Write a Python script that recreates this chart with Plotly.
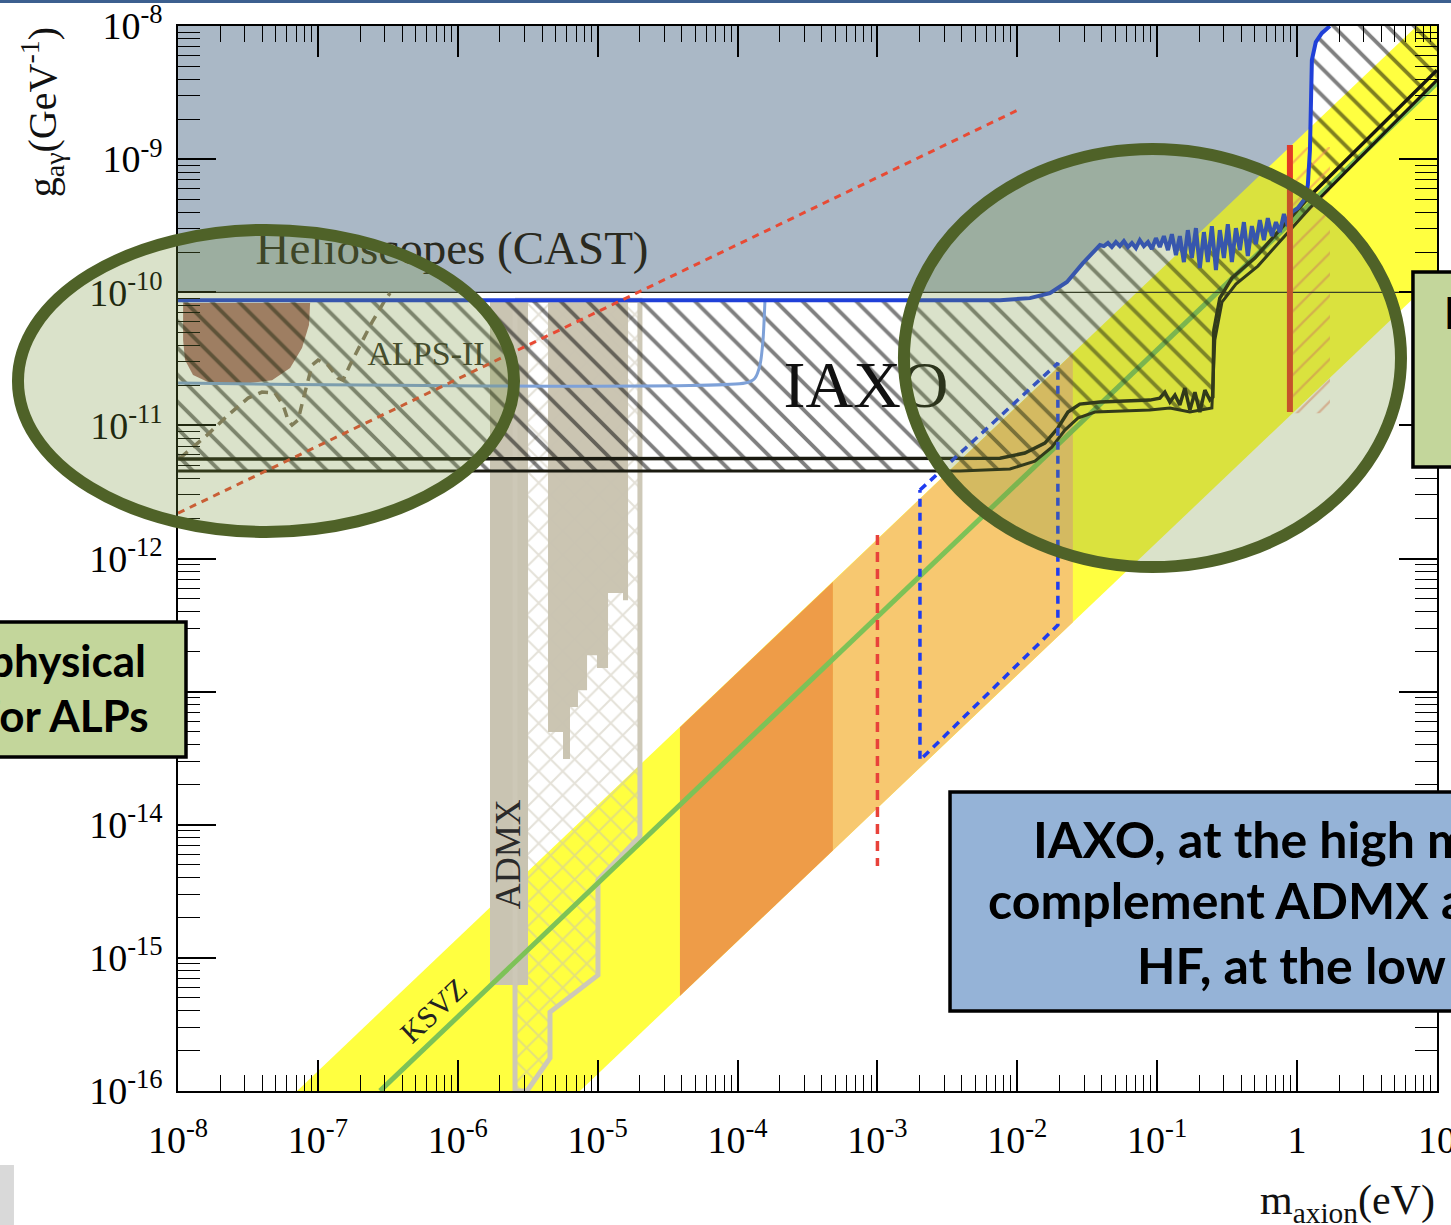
import plotly.graph_objects as go

# ------------------------------------------------------------------
# Values (log10 of m_axion [eV] and g [GeV^-1])
# ------------------------------------------------------------------
x_tick_exps = [-8, -7, -6, -5, -4, -3, -2, -1, 0, 1]
x_tick_labels = ["10<sup>-8</sup>", "10<sup>-7</sup>", "10<sup>-6</sup>", "10<sup>-5</sup>",
                 "10<sup>-4</sup>", "10<sup>-3</sup>", "10<sup>-2</sup>", "10<sup>-1</sup>", "1", "10"]
y_tick_exps = [-16, -15, -14, -13, -12, -11, -10, -9, -8]
y_tick_labels = ["10<sup>-16</sup>", "10<sup>-15</sup>", "10<sup>-14</sup>", "10<sup>-13</sup>",
                 "10<sup>-12</sup>", "10<sup>-11</sup>", "10<sup>-10</sup>", "10<sup>-9</sup>",
                 "10<sup>-8</sup>"]

# CAST exclusion (blue line), left to right
cast_m = [-8, -2.124, -1.910, -1.767, -1.645, -1.531, -1.409,
          -1.381, -1.352, -1.324, -1.295, -1.267, -1.238, -1.209, -1.181, -1.152, -1.124,
          -1.095, -1.066, -1.038, -1.009, -0.981, -0.952, -0.923, -0.895, -0.866, -0.838,
          -0.809, -0.781, -0.752, -0.723, -0.695, -0.666, -0.638, -0.609, -0.580, -0.552,
          -0.523, -0.495, -0.466, -0.437, -0.409, -0.380, -0.352, -0.323, -0.294, -0.266,
          -0.237, -0.209, -0.180, -0.151, -0.123, -0.094, -0.066, -0.037,
          0.006, 0.049, 0.077, 0.092, 0.099, 0.106, 0.134, 0.177, 0.235]
cast_g = [-10.059, -10.059, -10.044, -10.006, -9.923, -9.781, -9.645,
          -9.653, -9.630, -9.660, -9.623, -9.653, -9.615, -9.660, -9.630, -9.668, -9.608,
          -9.653, -9.623, -9.675, -9.593, -9.660, -9.578, -9.683, -9.563, -9.720, -9.578,
          -9.773, -9.533, -9.743, -9.518, -9.818, -9.548, -9.773, -9.503, -9.833, -9.533,
          -9.743, -9.488, -9.773, -9.518, -9.683, -9.473, -9.728, -9.503, -9.638, -9.458,
          -9.608, -9.443, -9.578, -9.473, -9.548, -9.412, -9.503, -9.397,
          -9.367, -9.307, -9.195, -8.932, -8.631, -8.255, -8.120, -8.053, -8.000]
cast_floor_g = -10.0          # thin black line / lower edge of grey helioscope area

# IAXO sensitivity lines
iaxo1_m = [-8, -2.124, -1.946, -1.803, -1.710, -1.638, -1.553, -1.409, -1.052,
           -0.981, -0.945, -0.909, -0.873, -0.838, -0.802, -0.766, -0.730, -0.695, -0.659, -0.623,
           -0.602, -0.595, -0.552, -0.466, -0.302, 0.092, 1.0]
iaxo1_g = [-11.253, -11.246, -11.208, -11.133, -11.020, -10.900, -10.840, -10.825, -10.810,
           -10.795, -10.750, -10.825, -10.772, -10.847, -10.720, -10.885, -10.750, -10.900, -10.735, -10.810,
           -10.787, -10.284, -10.044, -9.893, -9.743, -9.277, -8.331]
iaxo2_m = [-8, -2.410, -2.053, -1.874, -1.753, -1.660, -1.567, -1.445, -1.052, -0.909, -0.766,
           -0.609, -0.588, -0.537, -0.437, -0.280, 0.092, 1.0]
iaxo2_g = [-11.343, -11.343, -11.328, -11.268, -11.163, -11.035, -10.945, -10.900, -10.885, -10.870,
           -10.900, -10.870, -10.359, -10.074, -9.938, -9.803, -9.367, -8.406]

# light-blue line
lblue_m = [-8, -3.947, -3.876, -3.840, -3.818, -3.804]
lblue_g = [-10.682, -10.682, -10.645, -10.547, -10.359, -10.059]

# brown region (top-left)
brown_m = [-7.964, -7.056, -7.064, -7.114, -7.199, -7.328, -7.485, -7.771, -7.893, -7.950, -7.964]
brown_g = [-10.081, -10.081, -10.246, -10.419, -10.569, -10.660, -10.682, -10.682, -10.622, -10.509, -10.359]

# ALPS-II dashed curve
alps_m = [-7.986, -7.793, -7.643, -7.500, -7.400, -7.307, -7.249, -7.214, -7.185, -7.142, -7.107,
          -7.071, -7.042, -6.999, -6.928, -6.856, -6.821, -6.771, -6.699, -6.613, -6.520, -6.485]
alps_g = [-11.246, -11.073, -10.923, -10.795, -10.750, -10.757, -10.847, -10.960, -10.998, -10.960, -10.810,
          -10.660, -10.547, -10.509, -10.547, -10.645, -10.660, -10.547, -10.397, -10.224, -10.059, -10.006]

# axion model band (yellow) and KSVZ line
band_m = [-7.149, 0.856, 1.0, 1.0, -5.127]
band_g = [-16.0, -8.0, -8.0, -9.878, -16.0]
ksvz_m = [-6.556, 1.0]
ksvz_g = [-16.0, -8.428]

# orange regions inside the band
dark_m = [-4.412, -3.318, -3.318, -4.412]
dark_g = [-13.268, -12.174, -14.193, -15.287]
light_m = [-3.318, -1.603, -1.603, -3.318]
light_g = [-12.174, -10.459, -12.478, -14.193]

# ADMX regions
admx_a_m = [-5.770, -5.498, -5.498, -5.770]
admx_a_g = [-10.059, -10.059, -15.205, -15.205]
admx_b_m = [-5.355, -4.783, -4.783, -4.819, -4.819, -4.926, -4.926, -5.005, -5.005, -5.076,
            -5.076, -5.141, -5.141, -5.198, -5.198, -5.248, -5.248, -5.355]
admx_b_g = [-10.059, -10.059, -12.313, -12.313, -12.260, -12.260, -12.823, -12.823, -12.726, -12.726,
            -12.989, -12.989, -13.116, -13.116, -13.507, -13.507, -13.304, -13.304]
admx_hf_m = [-5.591, -4.698, -4.698, -4.998, -4.998, -5.341, -5.341, -5.505, -5.591, -5.591]
admx_hf_g = [-10.059, -10.059, -14.086, -14.416, -15.130, -15.408, -15.753, -16.0, -16.0, -10.059]

# other limits
red_dot_m = [-8, -1.996]
red_dot_g = [-11.659, -8.631]
red_vdash_m = [-3.0, -3.0]
red_vdash_g = [-11.824, -14.311]
blue_dash_m = [-2.696, -1.710, -1.710, -2.696, -2.696]
blue_dash_g = [-11.486, -10.532, -12.5, -13.515, -11.486]
red_solid_m = [-0.051, -0.051]
red_solid_g = [-8.894, -10.900]
red_hatch_m = [-0.030, 0.235, 0.235, -0.030]
red_hatch_g = [-8.909, -8.909, -10.908, -10.908]


def p(v):
    return [10 ** a for a in v]


fig = go.Figure()
T = "rgba(0,0,0,0)"

# helioscope grey area
gray_g = [max(v, cast_floor_g) for v in cast_g]
fig.add_trace(go.Scatter(x=p([-8] + cast_m + [-8]), y=p([-8] + gray_g + [-8]),
                         fill="toself", fillcolor="#AAB8C6", line=dict(width=0), mode="lines"))
# axion band
fig.add_trace(go.Scatter(x=p(band_m), y=p(band_g), fill="toself", fillcolor="#FFFF40",
                         line=dict(width=0), mode="lines"))
fig.add_trace(go.Scatter(x=p(dark_m), y=p(dark_g), fill="toself", fillcolor="#EE9C48",
                         line=dict(width=0), mode="lines"))
fig.add_trace(go.Scatter(x=p(light_m), y=p(light_g), fill="toself", fillcolor="#F7C870",
                         line=dict(width=0), mode="lines"))
# ADMX
fig.add_trace(go.Scatter(x=p(admx_a_m), y=p(admx_a_g), fill="toself", fillcolor="#C9C4B2",
                         line=dict(width=0), mode="lines"))
fig.add_trace(go.Scatter(x=p(admx_b_m), y=p(admx_b_g), fill="toself", fillcolor="#CBC5B2",
                         line=dict(width=0), mode="lines"))
fig.add_trace(go.Scatter(x=p(admx_hf_m), y=p(admx_hf_g), fill="toself", fillcolor=T,
                         fillpattern=dict(shape="x", fgcolor="#C9C3B1", bgcolor=T, size=17, solidity=0.22),
                         line=dict(width=5, color="#CDC8B7"), mode="lines"))
# KSVZ
fig.add_trace(go.Scatter(x=p(ksvz_m), y=p(ksvz_g), mode="lines", line=dict(color="#7DC257", width=5)))
# brown region
fig.add_trace(go.Scatter(x=p(brown_m), y=p(brown_g), fill="toself", fillcolor="#AD7671",
                         line=dict(width=0), mode="lines"))
# IAXO hatched region
hatch_m = cast_m + [1.0] + iaxo2_m[::-1]
hatch_g = cast_g + [-8.0] + iaxo2_g[::-1]
fig.add_trace(go.Scatter(x=p(hatch_m), y=p(hatch_g), fill="toself", fillcolor=T,
                         fillpattern=dict(shape="\\", fgcolor="#000000", bgcolor=T, size=19, solidity=0.2),
                         line=dict(width=0), mode="lines"))
# red hatch
fig.add_trace(go.Scatter(x=p(red_hatch_m), y=p(red_hatch_g), fill="toself", fillcolor=T,
                         fillpattern=dict(shape="/", fgcolor="#EE7A66", bgcolor=T, size=15, solidity=0.15),
                         line=dict(width=0), mode="lines"))
# lines
fig.add_trace(go.Scatter(x=p([-8, 1]), y=p([cast_floor_g, cast_floor_g]), mode="lines",
                         line=dict(color="#222222", width=1.2)))
fig.add_trace(go.Scatter(x=p(lblue_m), y=p(lblue_g), mode="lines",
                         line=dict(color="#7EA1D8", width=3, shape="spline", smoothing=0.6)))
fig.add_trace(go.Scatter(x=p(alps_m), y=p(alps_g), mode="lines",
                         line=dict(color="#857764", width=3.5, dash="10px,7px")))
fig.add_trace(go.Scatter(x=p(iaxo2_m), y=p(iaxo2_g), mode="lines", line=dict(color="#1A1A10", width=3)))
fig.add_trace(go.Scatter(x=p(iaxo1_m), y=p(iaxo1_g), mode="lines", line=dict(color="#1A1A10", width=3.5)))
fig.add_trace(go.Scatter(x=p(cast_m), y=p(cast_g), mode="lines", line=dict(color="#2040D8", width=4)))
fig.add_trace(go.Scatter(x=p(red_dot_m), y=p(red_dot_g), mode="lines",
                         line=dict(color="#E84A34", width=3, dash="7px,6px")))
fig.add_trace(go.Scatter(x=p(red_vdash_m), y=p(red_vdash_g), mode="lines",
                         line=dict(color="#E8423A", width=3.5, dash="10px,7px")))
fig.add_trace(go.Scatter(x=p(blue_dash_m), y=p(blue_dash_g), mode="lines",
                         line=dict(color="#1E3CF0", width=3.5, dash="8px,6px")))
fig.add_trace(go.Scatter(x=p(red_solid_m), y=p(red_solid_g), mode="lines",
                         line=dict(color="#E23A26", width=6)))

# in-plot labels (below the overlay ellipses)
serif = "Liberation Serif"
fig.add_trace(go.Scatter(x=p([-6.041]), y=p([-9.698]), mode="text", text=["Helioscopes (CAST)"],
                         textfont=dict(family=serif, size=47, color="#2A2A20")))
fig.add_trace(go.Scatter(x=p([-3.082]), y=p([-10.735]), mode="text", text=["IAXO"],
                         textfont=dict(family=serif, size=66, color="#111111")))
fig.add_trace(go.Scatter(x=p([-6.227]), y=p([-10.479]), mode="text", text=["ALPS-II"],
                         textfont=dict(family=serif, size=34, color="#333328")))

ann = [
    dict(x=-5.641, y=-14.221, xref="x", yref="y", text="ADMX", textangle=-90, showarrow=False,
         font=dict(family=serif, size=36, color="#2A2A2A")),
    dict(x=-6.177, y=-15.393, xref="x", yref="y", text="KSVZ", textangle=-43, showarrow=False,
         font=dict(family=serif, size=30, color="#222222")),
    # axis titles
    dict(x=-0.108, y=0.919, xref="paper", yref="paper", xanchor="center", yanchor="middle",
         text="g<sub>aγ</sub>(GeV<sup>-1</sup>)",
         textangle=-90, showarrow=False, font=dict(family=serif, size=40, color="#111111")),
    dict(x=1.0, y=-0.105, xref="paper", yref="paper", xanchor="right", yanchor="middle",
         text="m<sub>axion</sub>(eV)",
         showarrow=False, font=dict(family=serif, size=42, color="#111111")),
    # slide text boxes
    dict(x=-0.0238, y=0.4047, xref="paper", yref="paper", xanchor="right", yanchor="middle",
         text="<b>physical</b>", showarrow=False, font=dict(family="Lato", size=44, color="black")),
    dict(x=-0.0214, y=0.3531, xref="paper", yref="paper", xanchor="right", yanchor="middle",
         text="<b>for ALPs</b>", showarrow=False, font=dict(family="Lato", size=44, color="black")),
    dict(x=0.6775, y=0.2366, xref="paper", yref="paper", xanchor="left", yanchor="middle",
         text="<b>IAXO, at the high mass</b>", showarrow=False, font=dict(family="Lato", size=50, color="black")),
    dict(x=0.6418, y=0.1793, xref="paper", yref="paper", xanchor="left", yanchor="middle",
         text="<b>complement ADMX and</b>", showarrow=False, font=dict(family="Lato", size=50, color="black")),
    dict(x=0.7601, y=0.1183, xref="paper", yref="paper", xanchor="left", yanchor="middle",
         text="<b>HF, at the low</b>", showarrow=False, font=dict(family="Lato", size=50, color="black")),
    dict(x=1.004, y=0.7315, xref="paper", yref="paper", xanchor="left", yanchor="middle",
         text="<b>H</b>", showarrow=False, font=dict(family="Lato", size=44, color="black")),
]

olive = "#4F6228"
tint = "rgba(118,146,60,0.27)"
shapes = [
    dict(type="circle", xref="paper", yref="paper", x0=-0.1271, x1=0.2669, y0=0.5249, y1=0.8085,
         fillcolor=tint, line=dict(color=olive, width=12), layer="above"),
    dict(type="circle", xref="paper", yref="paper", x0=0.5766, x1=0.9714, y0=0.4920, y1=0.8845,
         fillcolor=tint, line=dict(color=olive, width=12), layer="above"),
    dict(type="rect", xref="paper", yref="paper", x0=-0.1573, x1=0.00635, y0=0.3136, y1=0.4404,
         fillcolor="#C3D69B", line=dict(color="black", width=3.5), layer="above"),
    dict(type="rect", xref="paper", yref="paper", x0=0.9809, x1=1.0342, y0=0.5859, y1=0.769,
         fillcolor="#C3D69B", line=dict(color="black", width=3.5), layer="above"),
    dict(type="rect", xref="paper", yref="paper", x0=0.6132, x1=1.0342, y0=0.0751, y1=0.2808,
         fillcolor="#95B3D7", line=dict(color="black", width=3.5), layer="above"),
    # slide edge decorations
    dict(type="rect", xref="paper", yref="paper", x0=-0.2, x1=1.2, y0=1.0216, y1=1.03,
         fillcolor="#3C5F8F", line=dict(width=0), layer="above"),
    dict(type="rect", xref="paper", yref="paper", x0=-0.1414, x1=-0.1303, y0=-0.1258, y1=-0.0695,
         fillcolor="#D9D9D9", line=dict(width=0), layer="above"),
]

minor_x = [k * 10.0 ** e for e in range(-8, 1) for k in range(2, 10)]
minor_y = [k * 10.0 ** e for e in range(-16, -8) for k in range(2, 10)]

axis_common = dict(type="log", showgrid=False, zeroline=False, showline=True, linecolor="black",
                   linewidth=1.5, mirror="allticks", ticks="inside", tickcolor="black", tickwidth=1.5,
                   tickfont=dict(family=serif, size=38, color="black"), tickmode="array",
                   automargin=False, ticklabeloverflow="allow")

fig.update_layout(
    width=1451, height=1225, margin=dict(l=178, r=14, t=26, b=134, autoexpand=False),
    paper_bgcolor="white", plot_bgcolor="white", showlegend=False,
    xaxis=dict(range=[-8.0005, 1.0005], tickvals=[10.0 ** e for e in x_tick_exps], ticktext=x_tick_labels,
               ticklen=31, ticklabelstandoff=15,
               minor=dict(ticks="inside", ticklen=16, tickwidth=1.2, tickcolor="black",
                          tickmode="array", tickvals=minor_x), **axis_common),
    yaxis=dict(range=[-16.0005, -7.9995], tickvals=[10.0 ** e for e in y_tick_exps], ticktext=y_tick_labels,
               ticklen=38, ticklabelstandoff=6,
               minor=dict(ticks="inside", ticklen=22, tickwidth=1.2, tickcolor="black",
                          tickmode="array", tickvals=minor_y), **axis_common),
    annotations=ann, shapes=shapes,
)

fig.write_html("out.html", config={"displayModeBar": False},
               post_script="document.body.style.margin='0';document.body.style.overflow='hidden';")
